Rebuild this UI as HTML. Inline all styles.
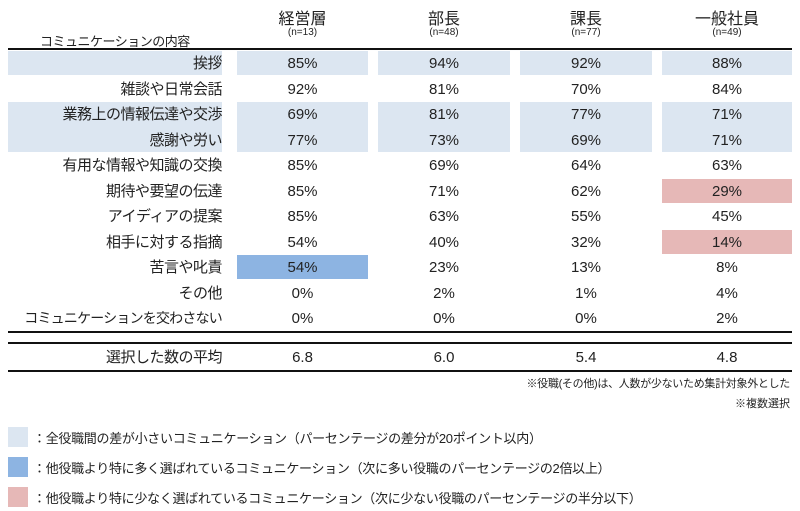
<!DOCTYPE html>
<html><head><meta charset="utf-8"><style>
body{margin:0;width:800px;height:511px;background:#fff;font-family:"Liberation Sans","Noto Sans CJK JP",sans-serif;color:#222;position:relative;overflow:hidden}
.a{position:absolute;white-space:nowrap}
.c{position:absolute;text-align:center;font-size:15px;line-height:25px;white-space:nowrap}
.l{position:absolute;text-align:right;font-size:15px;line-height:25px;left:0px;width:222px;white-space:nowrap;letter-spacing:-0.5px}
.line{position:absolute;left:8px;width:784px;background:#111}
</style></head><body>
<div class="a" style="left:40px;top:31px;font-size:13px;letter-spacing:-0.5px">コミュニケーションの内容</div>
<div class="a" style="left:237px;width:131px;top:5px;text-align:center;font-size:16px">経営層</div>
<div class="a" style="left:378px;width:132px;top:5px;text-align:center;font-size:16px">部長</div>
<div class="a" style="left:520px;width:132px;top:5px;text-align:center;font-size:16px">課長</div>
<div class="a" style="left:662px;width:130px;top:5px;text-align:center;font-size:16px">一般社員</div>
<div class="a" style="left:237px;width:131px;top:27px;text-align:center;font-size:10px">(n=13)</div>
<div class="a" style="left:378px;width:132px;top:27px;text-align:center;font-size:10px">(n=48)</div>
<div class="a" style="left:520px;width:132px;top:27px;text-align:center;font-size:10px">(n=77)</div>
<div class="a" style="left:662px;width:130px;top:27px;text-align:center;font-size:10px">(n=49)</div>
<div class="line" style="top:48px;height:2px"></div>
<div id="t"></div>
<div class="line" style="top:331px;height:2px"></div>
<div class="line" style="top:342px;height:2px"></div>
<div class="line" style="top:370px;height:2px"></div>
<div class="l" style="top:345px">選択した数の平均</div>
<div class="c" style="left:237px;width:131px;top:345px">6.8</div>
<div class="c" style="left:378px;width:132px;top:345px">6.0</div>
<div class="c" style="left:520px;width:132px;top:345px">5.4</div>
<div class="c" style="left:662px;width:130px;top:345px">4.8</div>
<div class="a" style="right:10px;top:375px;font-size:11px;letter-spacing:-0.3px">※役職(その他)は、人数が少ないため集計対象外とした</div>
<div class="a" style="right:10px;top:395px;font-size:11px">※複数選択</div>
<div class="a" style="left:8px;top:427px;width:20px;height:20px;background:#dce6f1"></div>
<div class="a" style="left:8px;top:457px;width:20px;height:20px;background:#8db4e2"></div>
<div class="a" style="left:8px;top:487px;width:20px;height:20px;background:#e6b8b7"></div>
<div class="a" style="left:33px;top:428px;font-size:13px;letter-spacing:-0.3px">：全役職間の差が小さいコミュニケーション（パーセンテージの差分が20ポイント以内）</div>
<div class="a" style="left:33px;top:458px;font-size:13px;letter-spacing:-0.3px">：他役職より特に多く選ばれているコミュニケーション（次に多い役職のパーセンテージの2倍以上）</div>
<div class="a" style="left:33px;top:488px;font-size:13px;letter-spacing:-0.3px">：他役職より特に少なく選ばれているコミュニケーション（次に少ない役職のパーセンテージの半分以下）</div>
<script>
var rows=[["挨拶","85%","94%","92%","88%"],["雑談や日常会話","92%","81%","70%","84%"],["業務上の情報伝達や交渉","69%","81%","77%","71%"],["感謝や労い","77%","73%","69%","71%"],["有用な情報や知識の交換","85%","69%","64%","63%"],["期待や要望の伝達","85%","71%","62%","29%"],["アイディアの提案","85%","63%","55%","45%"],["相手に対する指摘","54%","40%","32%","14%"],["苦言や叱責","54%","23%","13%","8%"],["その他","0%","2%","1%","4%"],["コミュニケーションを交わさない","0%","0%","0%","2%"]];
var cols=[[237,131],[378,132],[520,132],[662,130]];
var h="";
var shade={0:1,2:1,3:1};
rows.forEach(function(r,i){var y=51+i*25.5;
 if(shade[i]){h+='<div class="a" style="left:8px;width:214px;top:'+y+'px;height:'+(i==2?26:24)+'px;background:#dce6f1"></div>';
  cols.forEach(function(c){h+='<div class="a" style="left:'+c[0]+'px;width:'+c[1]+'px;top:'+y+'px;height:'+(i==2?26:24)+'px;background:#dce6f1"></div>';});}
 var fs=r[0].length>13?'font-size:14px;letter-spacing:-0.8px;':'';
 h+='<div class="l" style="'+fs+'top:'+y+'px">'+r[0]+'</div>';
 cols.forEach(function(c,j){var bg="";
  if(i==8&&j==0)bg="background:#8db4e2;";
  if((i==5||i==7)&&j==3)bg="background:#e6b8b7;";
  h+='<div class="c" style="'+bg+'left:'+c[0]+'px;width:'+c[1]+'px;top:'+y+'px;height:24px">'+r[j+1]+'</div>';});
});
document.getElementById("t").innerHTML=h;
</script>
</body></html>
